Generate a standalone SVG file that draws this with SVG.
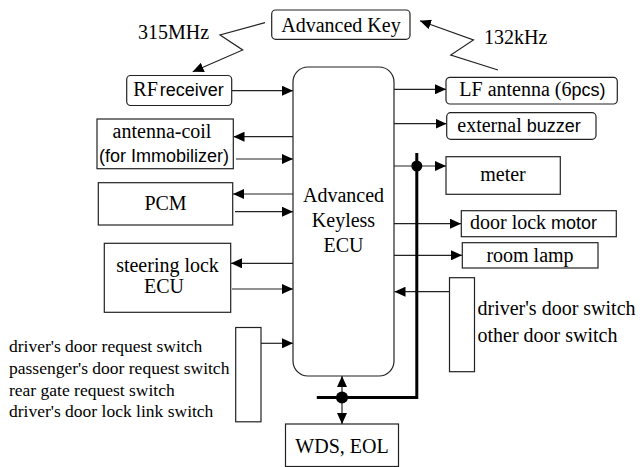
<svg xmlns="http://www.w3.org/2000/svg" width="643" height="467" viewBox="0 0 643 467" font-family="'Liberation Serif', 'DejaVu Serif', serif" font-size="20">
<style>
.box{fill:#fff;stroke:#222;stroke-width:1.2}
.ln{fill:none;stroke:#222;stroke-width:1.2}
.bus{fill:none;stroke:#000;stroke-width:3}
text{fill:#000}
.s{font-family:'Liberation Sans', Arial, sans-serif;font-size:18px}
.sm{font-size:17.5px}
.c{text-anchor:middle}
</style>
<defs>
<marker id="ah" markerUnits="userSpaceOnUse" markerWidth="11" markerHeight="10" refX="11" refY="5" orient="auto-start-reverse" viewBox="0 0 11 10">
<path d="M0,0 L11,5 L0,10 z" fill="#000"/>
</marker>
</defs>
<rect width="643" height="467" fill="#fff"/>

<g id="connectors">
<polyline class="ln" points="265,22.7 220,35 242.7,50 192.7,71.7" marker-end="url(#ah)"/>
<polyline class="ln" points="498,70 450.8,55 473.4,40 420,20.7" marker-end="url(#ah)"/>
<line class="ln" x1="232" y1="90.7" x2="293" y2="90.7" marker-end="url(#ah)"/>
<line class="ln" x1="293" y1="136.7" x2="233.5" y2="136.7" marker-end="url(#ah)"/>
<line class="ln" x1="236" y1="159" x2="293" y2="159" marker-end="url(#ah)"/>
<line class="ln" x1="293" y1="194" x2="233" y2="194" marker-end="url(#ah)"/>
<line class="ln" x1="235" y1="211.7" x2="293" y2="211.7" marker-end="url(#ah)"/>
<line class="ln" x1="293" y1="263.3" x2="231" y2="263.3" marker-end="url(#ah)"/>
<line class="ln" x1="232" y1="289" x2="293" y2="289" marker-end="url(#ah)"/>
<line class="ln" x1="261" y1="343.3" x2="293" y2="343.3" marker-end="url(#ah)"/>
<line class="ln" x1="394" y1="89.3" x2="446" y2="89.3" marker-end="url(#ah)"/>
<line class="ln" x1="394" y1="123.7" x2="446.5" y2="123.7" marker-end="url(#ah)"/>
<line class="ln" x1="394" y1="166" x2="446" y2="166" marker-end="url(#ah)"/>
<line class="ln" x1="394" y1="223.7" x2="461" y2="223.7" marker-end="url(#ah)"/>
<line class="ln" x1="394" y1="255.3" x2="462" y2="255.3" marker-end="url(#ah)"/>
<line class="ln" x1="449.5" y1="291.7" x2="394.5" y2="291.7" marker-end="url(#ah)"/>
<polyline class="bus" points="416.8,153 416.8,397.5 316.8,397.5"/>
<circle cx="416.8" cy="166" r="5.5" fill="#000"/>
<line class="ln" x1="342" y1="376" x2="342" y2="424" marker-start="url(#ah)" marker-end="url(#ah)"/>
<circle cx="342" cy="397.5" r="6" fill="#000"/>
</g>

<g id="advanced-key">
<rect class="box" x="271.7" y="10" width="138.3" height="29.3" rx="4"/>
<text class="c" x="341" y="31.7">Advanced Key</text>
</g>
<g id="label-315">
<text x="138" y="39">315MHz</text>
</g>
<g id="label-132">
<text x="484" y="44.3">132kHz</text>
</g>

<g id="ecu">
<rect class="box" x="293" y="67" width="101" height="309" rx="15"/>
<text class="c" x="343.5" y="201.7">Advanced</text>
<text class="c" x="343.5" y="226.7">Keyless</text>
<text class="c" x="343.5" y="251.7">ECU</text>
</g>

<g id="rf-receiver">
<rect class="box" x="126.7" y="75.5" width="105" height="30" rx="4"/>
<text x="133.3" y="96">RF<tspan class="s" dx="2">receiver</tspan></text>
</g>

<g id="antenna-coil">
<rect class="box" x="97" y="119" width="136.3" height="49.7"/>
<text class="c" x="162" y="138.3">antenna-coil</text>
<text class="s c" x="164" y="161.7">(for Immobilizer)</text>
</g>

<g id="pcm">
<rect class="box" x="98.3" y="182.7" width="134.4" height="42.3"/>
<text class="c" x="165.5" y="210">PCM</text>
</g>

<g id="steering-lock">
<rect class="box" x="104.3" y="243.3" width="126.4" height="69"/>
<text class="c" x="167.5" y="271.7">steering lock</text>
<text class="c" x="164" y="293.3">ECU</text>
</g>

<g id="request-switch">
<rect class="box" x="235.7" y="327.5" width="25.3" height="94.3"/>
<text class="sm" x="9" y="351.7">driver's door request switch</text>
<text class="sm" x="9" y="374.3">passenger's door request switch</text>
<text class="sm" x="9" y="395.5">rear gate request switch</text>
<text class="sm" x="9" y="416.7">driver's door lock link switch</text>
</g>

<g id="lf-antenna">
<rect class="box" x="446" y="77.3" width="171.3" height="26.7" rx="4"/>
<text x="459.3" y="96">LF antenna (6<tspan class="s">pcs)</tspan></text>
</g>

<g id="external-buzzer">
<rect class="box" x="446.7" y="112.7" width="149.3" height="26.6" rx="4"/>
<text x="457.3" y="132">external <tspan class="s">buzzer</tspan></text>
</g>

<g id="meter">
<rect class="box" x="446" y="156.7" width="114.3" height="37.6"/>
<text class="c" x="503" y="180.7">meter</text>
</g>

<g id="door-lock-motor">
<rect class="box" x="461.3" y="210.7" width="155" height="26"/>
<text x="470" y="229.3">door lock <tspan class="s">motor</tspan></text>
</g>

<g id="room-lamp">
<rect class="box" x="462.3" y="242.7" width="135.7" height="25.3"/>
<text class="c" x="530" y="261.7">room lamp</text>
</g>

<g id="door-switch">
<rect class="box" x="449.5" y="277.7" width="25" height="94"/>
<text x="477.5" y="315">driver's door switch</text>
<text x="477.5" y="341.7">other door switch</text>
</g>

<g id="wds-eol">
<rect class="box" x="285.5" y="424" width="113" height="42.5"/>
<text class="c" x="342" y="452.7">WDS, EOL</text>
</g>
</svg>
